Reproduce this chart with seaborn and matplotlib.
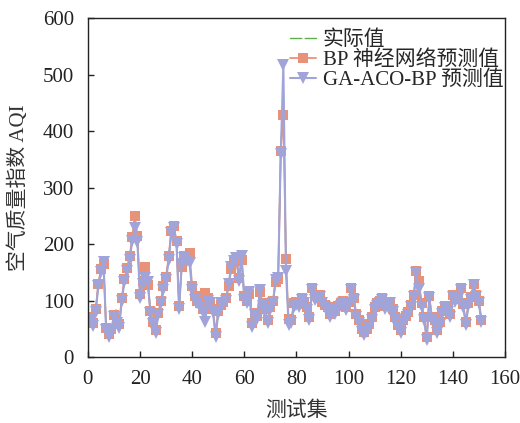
import numpy as np
import pandas as pd
import matplotlib
matplotlib.use('Agg')
import matplotlib.pyplot as plt
import seaborn as sns

# GA-ACO-BP predictions
ga_pred = [65, 55, 80, 125, 150, 168, 48, 35, 45, 70,
           60, 52, 100, 132, 152, 172, 205, 228, 204, 105,
           130, 140, 133, 78, 58, 42, 74, 95, 118, 137,
           172, 220, 228, 200, 85, 165, 175, 170, 166, 119,
           101, 95, 89, 80, 62, 100, 95, 80, 36, 77,
           95, 95, 100, 130, 160, 170, 175, 135, 178, 101,
           95, 115, 54, 74, 68, 119, 91, 80, 60, 83,
           95, 136, 140, 360, 517, 152, 57, 60, 89, 92,
           89, 101, 95, 83, 65, 119, 101, 105, 107, 95,
           88, 83, 71, 83, 77, 85, 90, 95, 83, 95,
           119, 101, 71, 60, 45, 39, 45, 54, 65, 83,
           90, 95, 101, 85, 89, 95, 80, 65, 51, 42,
           60, 68, 75, 89, 107, 148, 120, 89, 65, 30,
           104, 65, 60, 42, 57, 77, 86, 80, 71, 107,
           98, 103, 119, 89, 57, 90, 101, 127, 107, 95, 62]

# BP network predictions
bp_pred = [70, 60, 85, 130, 155, 165, 52, 40, 50, 75,
           62, 58, 105, 138, 158, 178, 212, 250, 215, 112,
           135, 160, 128, 82, 62, 48, 78, 100, 125, 142,
           178, 224, 232, 205, 90, 160, 178, 175, 185, 125,
           108, 100, 95, 85, 113, 105, 98, 85, 42, 82,
           92, 98, 105, 125, 155, 168, 170, 140, 172, 108,
           100, 112, 60, 78, 72, 115, 95, 85, 65, 88,
           100, 132, 138, 365, 428, 173, 67, 65, 95, 98,
           94, 105, 98, 88, 70, 122, 110, 108, 110, 98,
           92, 88, 76, 88, 82, 90, 95, 100, 88, 98,
           122, 105, 76, 65, 50, 44, 50, 58, 70, 88,
           95, 100, 105, 90, 92, 98, 85, 70, 56, 48,
           65, 72, 80, 92, 110, 152, 135, 95, 70, 36,
           108, 70, 65, 48, 62, 82, 90, 85, 76, 110,
           102, 108, 122, 94, 62, 95, 106, 130, 110, 100, 66]

# actual AQI values
actual = [66, 57, 82, 128, 152, 168, 50, 37, 47, 72,
          85, 55, 102, 134, 154, 174, 207, 232, 206, 108,
          132, 145, 134, 80, 60, 45, 76, 97, 120, 139,
          174, 222, 230, 202, 87, 163, 176, 172, 170, 121,
          104, 97, 91, 82, 66, 102, 96, 82, 39, 79,
          97, 100, 102, 128, 158, 169, 173, 137, 176, 104,
          97, 114, 57, 76, 70, 117, 93, 82, 62, 85,
          97, 134, 139, 362, 470, 160, 60, 62, 91, 94,
          91, 102, 96, 85, 67, 120, 104, 106, 108, 96,
          90, 85, 73, 85, 79, 87, 92, 97, 85, 96,
          120, 102, 73, 62, 47, 41, 47, 56, 67, 85,
          92, 97, 102, 87, 90, 96, 82, 67, 53, 44,
          62, 70, 77, 90, 108, 150, 140, 91, 67, 33,
          106, 67, 62, 44, 59, 79, 88, 82, 73, 108,
          100, 105, 120, 91, 59, 92, 103, 128, 108, 97, 64]

idx = np.arange(1, len(actual) + 1)

df = pd.DataFrame({
    'idx': np.concatenate([idx, idx, idx]),
    'aqi': actual + bp_pred + ga_pred,
    'series': ['实际值'] * len(idx) + ['BP 神经网络预测值'] * len(idx) + ['GA-ACO-BP 预测值'] * len(idx),
})

sns.set_style('ticks')
plt.rcParams['font.family'] = ['Liberation Serif', 'Noto Sans CJK SC']
plt.rcParams['axes.unicode_minus'] = False

fig = plt.figure(figsize=(5.2, 4.23), dpi=100)
ax = fig.add_axes([0.169, 0.156, 0.802, 0.801])

green = '#5fae4e'
orange = '#e8927a'
purple = '#a1a4d8'

sns.lineplot(data=df[df['series'] == '实际值'], x='idx', y='aqi', ax=ax,
             color=green, linewidth=1.0, marker='x', markersize=4,
             markeredgewidth=0.8, label='实际值')
sns.lineplot(data=df[df['series'] == 'BP 神经网络预测值'], x='idx', y='aqi', ax=ax,
             color=orange, linewidth=1.3, marker='s', markersize=7,
             markeredgewidth=0, label='BP 神经网络预测值')
sns.lineplot(data=df[df['series'] == 'GA-ACO-BP 预测值'], x='idx', y='aqi', ax=ax,
             color=purple, linewidth=1.5, marker='v', markersize=9,
             markeredgewidth=0, label='GA-ACO-BP 预测值')

ax.set_xlim(0, 160)
ax.set_ylim(0, 600)
ax.set_xticks(np.arange(0, 161, 20))
ax.set_yticks(np.arange(0, 601, 100))
ax.tick_params(direction='in', labelsize=15, length=4, width=1, colors='#222222')
ax.tick_params(axis='x', pad=9)
ax.tick_params(axis='y', pad=10)
for s in ax.spines.values():
    s.set_color('#222222')
    s.set_linewidth(1.0)

ax.set_xlabel('测试集', fontsize=15, color='#333333', labelpad=9)
ax.set_ylabel('空气质量指数 AQI', fontsize=15, color='#333333', labelpad=10)

leg = ax.legend(loc='upper right', frameon=False, fontsize=15,
                handlelength=1.25, borderaxespad=0.0, labelspacing=0.02,
                handletextpad=0.35, borderpad=0.2,
                bbox_to_anchor=(1.007, 0.976))

fig.savefig('out.png', dpi=100)
